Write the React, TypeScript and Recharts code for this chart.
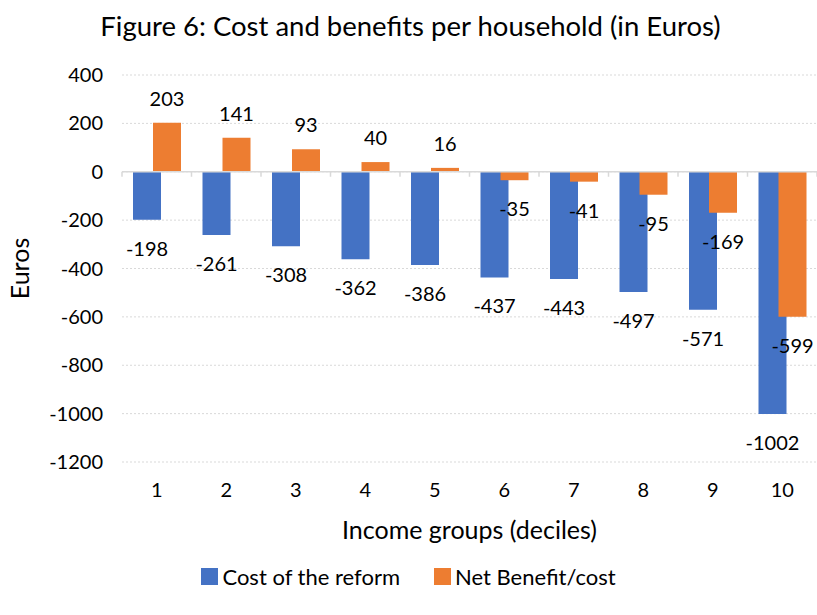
import { BarChart, Bar, XAxis, YAxis, CartesianGrid, ReferenceLine, LabelList, Label } from "recharts"

const deciles = ["1", "2", "3", "4", "5", "6", "7", "8", "9", "10"]
const costOfReform = [-198, -261, -308, -362, -386, -437, -443, -497, -571, -1002]
const netBenefit = [203, 141, 93, 40, 16, -35, -41, -95, -169, -599]
const yTicks = [400, 200, 0, -200, -400, -600, -800, -1000, -1200]

const BLUE = "#4472C4"
const ORANGE = "#ED7D31"
const FONT = "Lato, 'Open Sans', sans-serif"

const data = deciles.map((d, i) => ({
    decile: d,
    cost: costOfReform[i],
    net: netBenefit[i],
}))

const BarValue = (props: any) => {
    const { x, y, width, height, value } = props
    const top = Math.min(y, y + height)
    const bottom = Math.max(y, y + height)
    const cy = value < 0 ? bottom + 28 : top - 25
    return (
        <text x={x + width / 2} y={cy} textAnchor="middle" dominantBaseline="central"
            fontSize={20} fill="#000" fontFamily={FONT}>
            {value}
        </text>
    )
}

// zero line with small tick marks at category boundaries
const ZeroLine = (props: any) => {
    const { x1, y1, x2 } = props
    const step = (x2 - x1) / deciles.length
    return (
        <g>
            <line x1={x1} y1={y1} x2={x2} y2={y1} stroke="#d9d9d9" strokeWidth={1.5} />
            {deciles.concat([""]).map((_, i) => (
                <line key={i} x1={x1 + i * step} x2={x1 + i * step} y1={y1} y2={y1 + 5}
                    stroke="#d9d9d9" strokeWidth={1.5} />
            ))}
        </g>
    )
}

export default function App() {
    return (
        <div style={{ position: "absolute", left: 0, top: 0, width: 817, height: 615, background: "#fff", fontFamily: FONT }}>
            <div style={{ position: "absolute", left: 0, width: 817, top: 9, textAlign: "center", fontSize: 27.5, color: "#000", paddingLeft: 2 }}>
                Figure 6: Cost and benefits per household (in Euros)
            </div>
            <BarChart width={817} height={615} data={data} barSize={28} barGap={-8}
                margin={{ top: 75, right: 0, left: 0, bottom: 73 }}>
                <CartesianGrid horizontal vertical={false} stroke="#d9d9d9" strokeDasharray="2 2" />
                <XAxis dataKey="decile" axisLine={false} tickLine={false} tickSize={0} tickMargin={21}
                    height={80} tick={{ fontSize: 20, fill: "#000", fontFamily: FONT }} interval={0}>
                    <Label value="Income groups (deciles)" position="insideBottom" offset={3}
                        style={{ fontSize: 25, fill: "#000", fontFamily: FONT }} />
                </XAxis>
                <YAxis domain={[-1200, 400]} ticks={yTicks} axisLine={false} tickLine={false} tickSize={0}
                    tickMargin={19} width={122} interval={0}
                    tick={{ fontSize: 20, fill: "#000", fontFamily: FONT }}>
                    <Label value="Euros" angle={-90} position="insideLeft" offset={20}
                        style={{ fontSize: 25, fill: "#000", fontFamily: FONT, textAnchor: "middle" }} />
                </YAxis>
                <ReferenceLine y={0} shape={ZeroLine} />
                <Bar dataKey="cost" name="Cost of the reform" fill={BLUE} isAnimationActive={false}>
                    <LabelList dataKey="cost" content={BarValue} />
                </Bar>
                <Bar dataKey="net" name="Net Benefit/cost" fill={ORANGE} isAnimationActive={false}>
                    <LabelList dataKey="net" content={BarValue} />
                </Bar>
            </BarChart>
            <div style={{ position: "absolute", top: 563, left: 0, width: 817, display: "flex", justifyContent: "center", fontSize: 22, color: "#000", paddingLeft: 0 }}>
                <div style={{ display: "flex", alignItems: "center", marginRight: 34 }}>
                    <span style={{ width: 17, height: 17, background: BLUE, display: "inline-block", marginRight: 4 }} />
                    Cost of the reform
                </div>
                <div style={{ display: "flex", alignItems: "center" }}>
                    <span style={{ width: 17, height: 17, background: ORANGE, display: "inline-block", marginRight: 4 }} />
                    Net Benefit/cost
                </div>
            </div>
        </div>
    )
}
